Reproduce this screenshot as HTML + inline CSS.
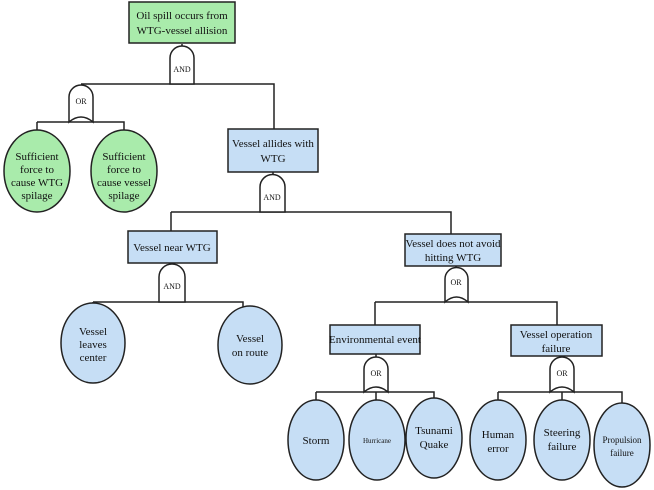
<!DOCTYPE html>
<html><head><meta charset="utf-8"><style>
html,body{margin:0;padding:0;background:#fff;width:654px;height:490px;overflow:hidden}
svg{display:block}
text{font-family:"Liberation Serif",serif;fill:#111;text-anchor:middle}
</style></head><body>
<svg width="654" height="490" viewBox="0 0 654 490">
<g stroke="#222" stroke-width="1.5" fill="none">
<path d="M182 44V48 M81 84H274V129 M37 122H124V130 M273 172V176 M171 212H451V234 M171 212V231 M93 302H243V310 M172 262V264 M375 302H557V325 M375 302V325 M456 266V268 M316 392H434V400 M376 392V400 M316 392V400 M434 392V400 M498 392H622V404 M562 392V400 M498 392V400 M37 122V130 M93 302V310 M376 354V357 M561 356V357"/>
</g>
<g stroke="#222" stroke-width="1.5">
<rect x="129" y="2" width="106" height="41" fill="#a9ebab"/>
<rect x="228" y="129" width="90" height="43" fill="#c6def5"/>
<rect x="128" y="231" width="89" height="32" fill="#c6def5"/>
<rect x="405" y="234" width="96" height="32" fill="#c6def5"/>
<rect x="330" y="325" width="90" height="29" fill="#c6def5"/>
<rect x="511" y="325" width="91" height="31" fill="#c6def5"/>
<ellipse cx="37" cy="171" rx="33" ry="41" fill="#a9ebab"/>
<ellipse cx="124" cy="171" rx="33" ry="41" fill="#a9ebab"/>
<ellipse cx="93" cy="343" rx="32" ry="40" fill="#c6def5"/>
<ellipse cx="250" cy="345" rx="32" ry="39" fill="#c6def5"/>
<ellipse cx="316" cy="440" rx="28" ry="40" fill="#c6def5"/>
<ellipse cx="377" cy="440" rx="28" ry="40" fill="#c6def5"/>
<ellipse cx="434" cy="438" rx="28" ry="40" fill="#c6def5"/>
<ellipse cx="498" cy="440" rx="28" ry="40" fill="#c6def5"/>
<ellipse cx="562" cy="440" rx="28" ry="40" fill="#c6def5"/>
<ellipse cx="622" cy="445" rx="28" ry="42" fill="#c6def5"/>
<path d="M170 84V58A12 12 0 0 1 194 58V84Z" fill="#fff"/>
<path d="M260 212V187A12.5 12.5 0 0 1 285 187V212Z" fill="#fff"/>
<path d="M159 302V277A13 13 0 0 1 185 277V302Z" fill="#fff"/>
<path d="M69 122V97A12 12 0 0 1 93 97V122Q81 112 69 122Z" fill="#fff"/>
<path d="M445 302V279A11.5 11.5 0 0 1 468 279V302Q456.5 292 445 302Z" fill="#fff"/>
<path d="M364 392V369A12 12 0 0 1 388 369V392Q376 382 364 392Z" fill="#fff"/>
<path d="M550 392V369A12 12 0 0 1 574 369V392Q562 382 550 392Z" fill="#fff"/>
</g>
<g font-size="11">
<text x="182" y="19">Oil spill occurs from</text>
<text x="182" y="34">WTG-vessel allision</text>
<text x="182" y="72" font-size="8">AND</text>
<text x="81" y="104" font-size="8">OR</text>
<text x="37" y="160">Sufficient</text><text x="37" y="173">force to</text><text x="37" y="186">cause WTG</text><text x="37" y="199">spilage</text>
<text x="124" y="160">Sufficient</text><text x="124" y="173">force to</text><text x="124" y="186">cause vessel</text><text x="124" y="199">spilage</text>
<text x="273" y="147">Vessel allides with</text><text x="273" y="162">WTG</text>
<text x="272" y="200" font-size="8">AND</text>
<text x="172" y="251">Vessel near WTG</text>
<text x="172" y="289" font-size="8">AND</text>
<text x="453" y="247">Vessel does not avoid</text><text x="453" y="261">hitting WTG</text>
<text x="456" y="285" font-size="8">OR</text>
<text x="93" y="335">Vessel</text><text x="93" y="348">leaves</text><text x="93" y="361">center</text>
<text x="250" y="342">Vessel</text><text x="250" y="356">on route</text>
<text x="375" y="343">Environmental event</text>
<text x="556" y="338">Vessel operation</text><text x="556" y="352">failure</text>
<text x="376" y="376" font-size="8">OR</text>
<text x="562" y="376" font-size="8">OR</text>
<text x="316" y="444">Storm</text>
<text x="377" y="443" font-size="7">Hurricane</text>
<text x="434" y="434">Tsunami</text><text x="434" y="448">Quake</text>
<text x="498" y="438">Human</text><text x="498" y="452">error</text>
<text x="562" y="436">Steering</text><text x="562" y="450">failure</text>
<text x="622" y="443" font-size="9">Propulsion</text><text x="622" y="456" font-size="9">failure</text>
</g>
</svg>
</body></html>
